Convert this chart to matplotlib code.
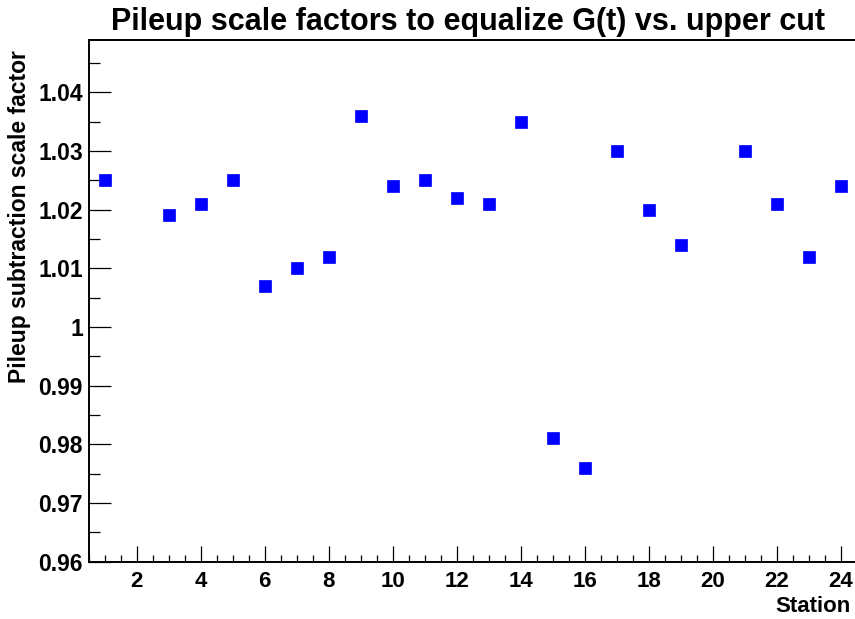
import matplotlib
matplotlib.use("Agg")
import matplotlib.pyplot as plt
from matplotlib.ticker import MultipleLocator

stations = [1, 3, 4, 5, 6, 7, 8, 9, 10, 11, 12, 13, 14, 15, 16, 17, 18, 19, 21, 22, 23, 24]
scale_factors = [1.025, 1.019, 1.021, 1.025, 1.007, 1.010, 1.012, 1.036, 1.024, 1.025,
                 1.022, 1.021, 1.035, 0.981, 0.976, 1.030, 1.020, 1.014, 1.030, 1.021,
                 1.012, 1.024]
title = "Pileup scale factors to equalize G(t) vs. upper cut"
xlabel = "Station"
ylabel = "Pileup subtraction scale factor"

plt.rcParams['font.family'] = ['Liberation Sans', 'DejaVu Sans']
plt.rcParams['font.weight'] = 'bold'

W, H = 855, 619
fig = plt.figure(figsize=(W / 100, H / 100), dpi=100)
left, right, top, bottom = 88.5, 857, 40, 561.7
ax = fig.add_axes([left / W, 1 - bottom / H, (right - left) / W, (bottom - top) / H])

ax.plot(stations, scale_factors, linestyle='none', marker='s', markersize=8,
        color='#0000ff', markeredgecolor='#0000ff', markeredgewidth=0.5)

ax.set_xlim(0.5, 24.5)
ax.set_ylim(0.96, 1.0489)
ax.xaxis.set_major_locator(MultipleLocator(2))
ax.xaxis.set_minor_locator(MultipleLocator(0.5))
ax.yaxis.set_major_locator(MultipleLocator(0.01))
ax.yaxis.set_minor_locator(MultipleLocator(0.005))

def yfmt(v, pos):
    s = f"{v:.2f}".rstrip('0').rstrip('.')
    return s
ax.yaxis.set_major_formatter(plt.FuncFormatter(yfmt))

ax.tick_params(axis='both', which='both', direction='in', width=0.9, color='black',
               top=False, right=False)
ax.tick_params(axis='y', which='major', length=16, pad=4, labelsize=16.5)
ax.tick_params(axis='y', which='minor', length=8)
ax.tick_params(axis='x', which='major', length=11.3, pad=7, labelsize=16)
ax.tick_params(axis='x', which='minor', length=5.4)
for lbl in ax.get_xticklabels() + ax.get_yticklabels():
    lbl.set_fontweight('bold')
for sp in ax.spines.values():
    sp.set_linewidth(1.4)

fig.text(468 / W, 1 - 30 / H, title, ha='center', va='baseline', fontsize=22, fontweight='bold')
fig.text(851 / W, 1 - 612 / H, xlabel, ha='right', va='baseline', fontsize=16, fontweight='bold')
fig.text(20 / W, 1 - 50 / H, ylabel, ha='center', va='top', rotation=90, fontsize=16.5, fontweight='bold')

fig.savefig("out.png", dpi=100, facecolor='white')
